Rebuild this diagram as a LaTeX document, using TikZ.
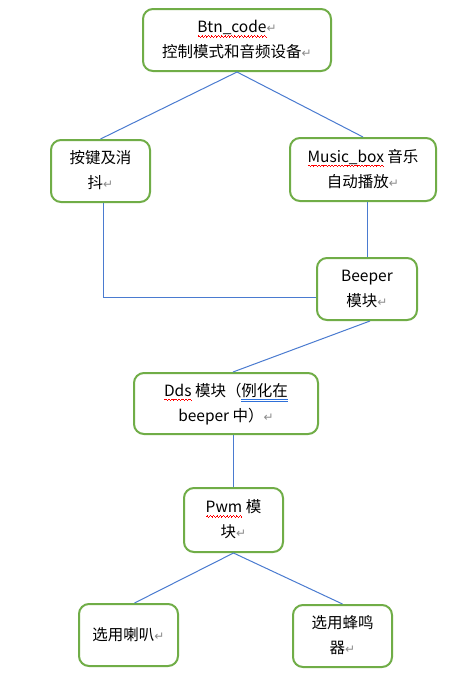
\documentclass[tikz,border=0pt]{standalone}
\usepackage{fontspec}
\setmainfont{Noto Sans CJK SC}
\newfontfamily\symfont{DejaVu Sans}
\usetikzlibrary{calc}
\definecolor{boxgreen}{HTML}{70AD47}
\definecolor{lineblue}{HTML}{4A7BD0}
\definecolor{markgray}{HTML}{8C8C8C}
\definecolor{spellred}{HTML}{FF0000}
\definecolor{gramblue}{HTML}{2E6FD8}
\newcommand\pmark{{\symfont\color{markgray}\fontsize{12}{12}\selectfont ↵}}
\newsavebox\ulword
\newcommand\spellw[1]{\sbox\ulword{#1}%
  \rlap{\hbox to\wd\ulword{\color{spellred}\xleaders\hbox{\rule[-4.2pt]{0.8pt}{0.8pt}\rule[-3.4pt]{0.8pt}{0.8pt}\rule[-4.2pt]{0.8pt}{0.8pt}\rule[-5pt]{0.8pt}{0.8pt}}\hfil}}%
  \usebox\ulword}
\newcommand\gramuu[1]{\sbox\ulword{#1}%
  \rlap{\textcolor{gramblue}{\rule[-4pt]{\wd\ulword}{0.8pt}}}%
  \rlap{\textcolor{gramblue}{\rule[-6.2pt]{\wd\ulword}{0.8pt}}}%
  \usebox\ulword}
\newcommand\boxtext[1]{\raisebox{-3.5pt}{\begin{tabular}{@{}c@{}}#1\end{tabular}}}
\tikzset{
  box/.style={draw=boxgreen, line width=2pt, rounded corners=10pt,
    inner sep=2pt, font=\fontsize{15.5pt}{25pt}\selectfont, text=black},
  link/.style={draw=lineblue, line width=1pt}
}
\begin{document}
\begin{tikzpicture}[x=1pt,y=-1pt]
\fill[white] (0,0) rectangle (470,681);
\useasboundingbox (0,0) rectangle (470,681);
\node[box, minimum width=188pt, minimum height=62pt] (b1) at (237,40)
  {\boxtext{\spellw{Btn\_code}\pmark\\控制模式和音频设备\pmark}};
\node[box, minimum width=99pt, minimum height=62pt] (b2) at (100.5,171)
  {\boxtext{按键及消\\抖\pmark}};
\node[box, minimum width=146pt, minimum height=63pt] (b3) at (363,169.5)
  {\boxtext{\spellw{Music\_box} 音乐\\自动播放\pmark}};
\node[box, minimum width=100pt, minimum height=62pt] (b4) at (367,289)
  {\boxtext{Beeper\\模块\pmark}};
\node[box, minimum width=184pt, minimum height=61pt] (b5) at (226,403.5)
  {\boxtext{\spellw{Dds} 模块（\gramuu{例化在}\\beeper 中）\pmark}};
\node[box, minimum width=99pt, minimum height=64pt] (b6) at (233.5,520)
  {\boxtext{\spellw{Pwm} 模\\块\pmark}};
\node[box, minimum width=99pt, minimum height=62pt] (b7) at (128.5,635)
  {\boxtext{选用喇叭\pmark}};
\node[box, minimum width=99pt, minimum height=62pt] (b8) at (342.5,636)
  {\boxtext{选用蜂鸣\\器\pmark}};
% connectors
\draw[link] (b2.north) -- (b1.south) -- (b3.north);
\draw[link] (b4.north) -- (b4.north |- b3.south);
\draw[link] ($(b4.west)+(0,8)$) -| ($(b2.south)+(2.5,0)$);
\draw[link] ($(b4.south)+(3,0)$) -- ($(b5.north)+(7,0)$);
\draw[link] (b6.north) -- (b6.north |- b5.south);
\draw[link] ($(b7.north)+(6,0)$) -- (b6.south) -- (b8.north);
\end{tikzpicture}
\end{document}
